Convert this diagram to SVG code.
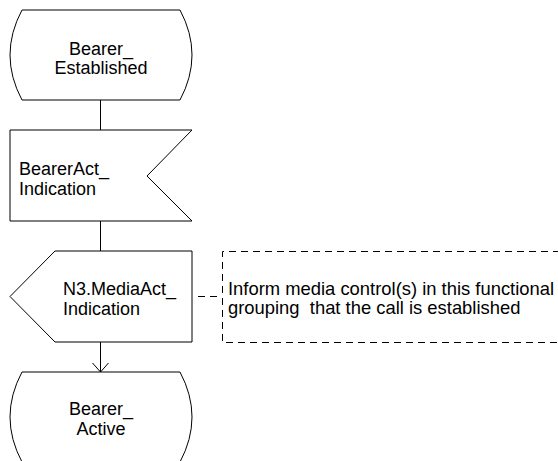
<svg xmlns="http://www.w3.org/2000/svg" width="558" height="461" viewBox="0 0 558 461">
<defs>
<style>
.s{fill:#fff;stroke:#000;stroke-width:1}
.l{fill:none;stroke:#000;stroke-width:1}
.d{fill:none;stroke:#000;stroke-width:1;stroke-dasharray:7,5}
text{font-family:"Liberation Sans",Arial,sans-serif;font-size:18px;fill:#000}
.c{text-anchor:middle}
.m{font-size:18.4px;white-space:pre}
</style>
<marker id="arr" markerWidth="20" markerHeight="20" refX="10" refY="10" orient="auto" markerUnits="userSpaceOnUse">
<path d="M1,2 L10,10 L1,18" fill="none" stroke="#000" stroke-width="1"/>
</marker>
</defs>
<g id="connectors">
<line class="l" x1="100.5" y1="100" x2="100.5" y2="130"/>
<line class="l" x1="100.5" y1="221" x2="100.5" y2="251"/>
<line class="l" x1="100.5" y1="342" x2="100.5" y2="372" marker-end="url(#arr)"/>
<line class="d" x1="198" y1="296.5" x2="222" y2="296.5"/>
</g>
<g id="state_bearer_established">
<path class="s" d="M22,10 L180,10 Q204,55 180,100 L22,100 Q-2,55 22,10 Z"/>
<text class="c" x="101" y="55">Bearer_</text>
<text class="c" x="101" y="74">Established</text>
</g>
<g id="input_bearerAct_indication">
<path class="s" d="M10,130 L192,130 L147,176 L192,221 L10,221 Z"/>
<text x="19" y="175">BearerAct_</text>
<text x="19" y="195">Indication</text>
</g>
<g id="output_n3_mediaAct_indication">
<path class="s" d="M55,251 L192,251 L192,342 L55,342 L10,296.5 Z"/>
<text x="63" y="295">N3.MediaAct_</text>
<text x="63" y="315">Indication</text>
</g>
<g id="comment">
<path class="d" d="M560,251.5 L222.5,251.5 L222.5,342.5 L560,342.5"/>
<text class="m" x="228" y="295" xml:space="preserve">Inform media control(s) in this functional</text>
<text class="m" x="228" y="314" xml:space="preserve">grouping  that the call is established</text>
</g>
<g id="state_bearer_active">
<path class="s" d="M22,372 L180,372 Q204,417 180,462 L22,462 Q-2,417 22,372 Z"/>
<text class="c" x="101" y="415">Bearer_</text>
<text class="c" x="101" y="435">Active</text>
</g>
</svg>
